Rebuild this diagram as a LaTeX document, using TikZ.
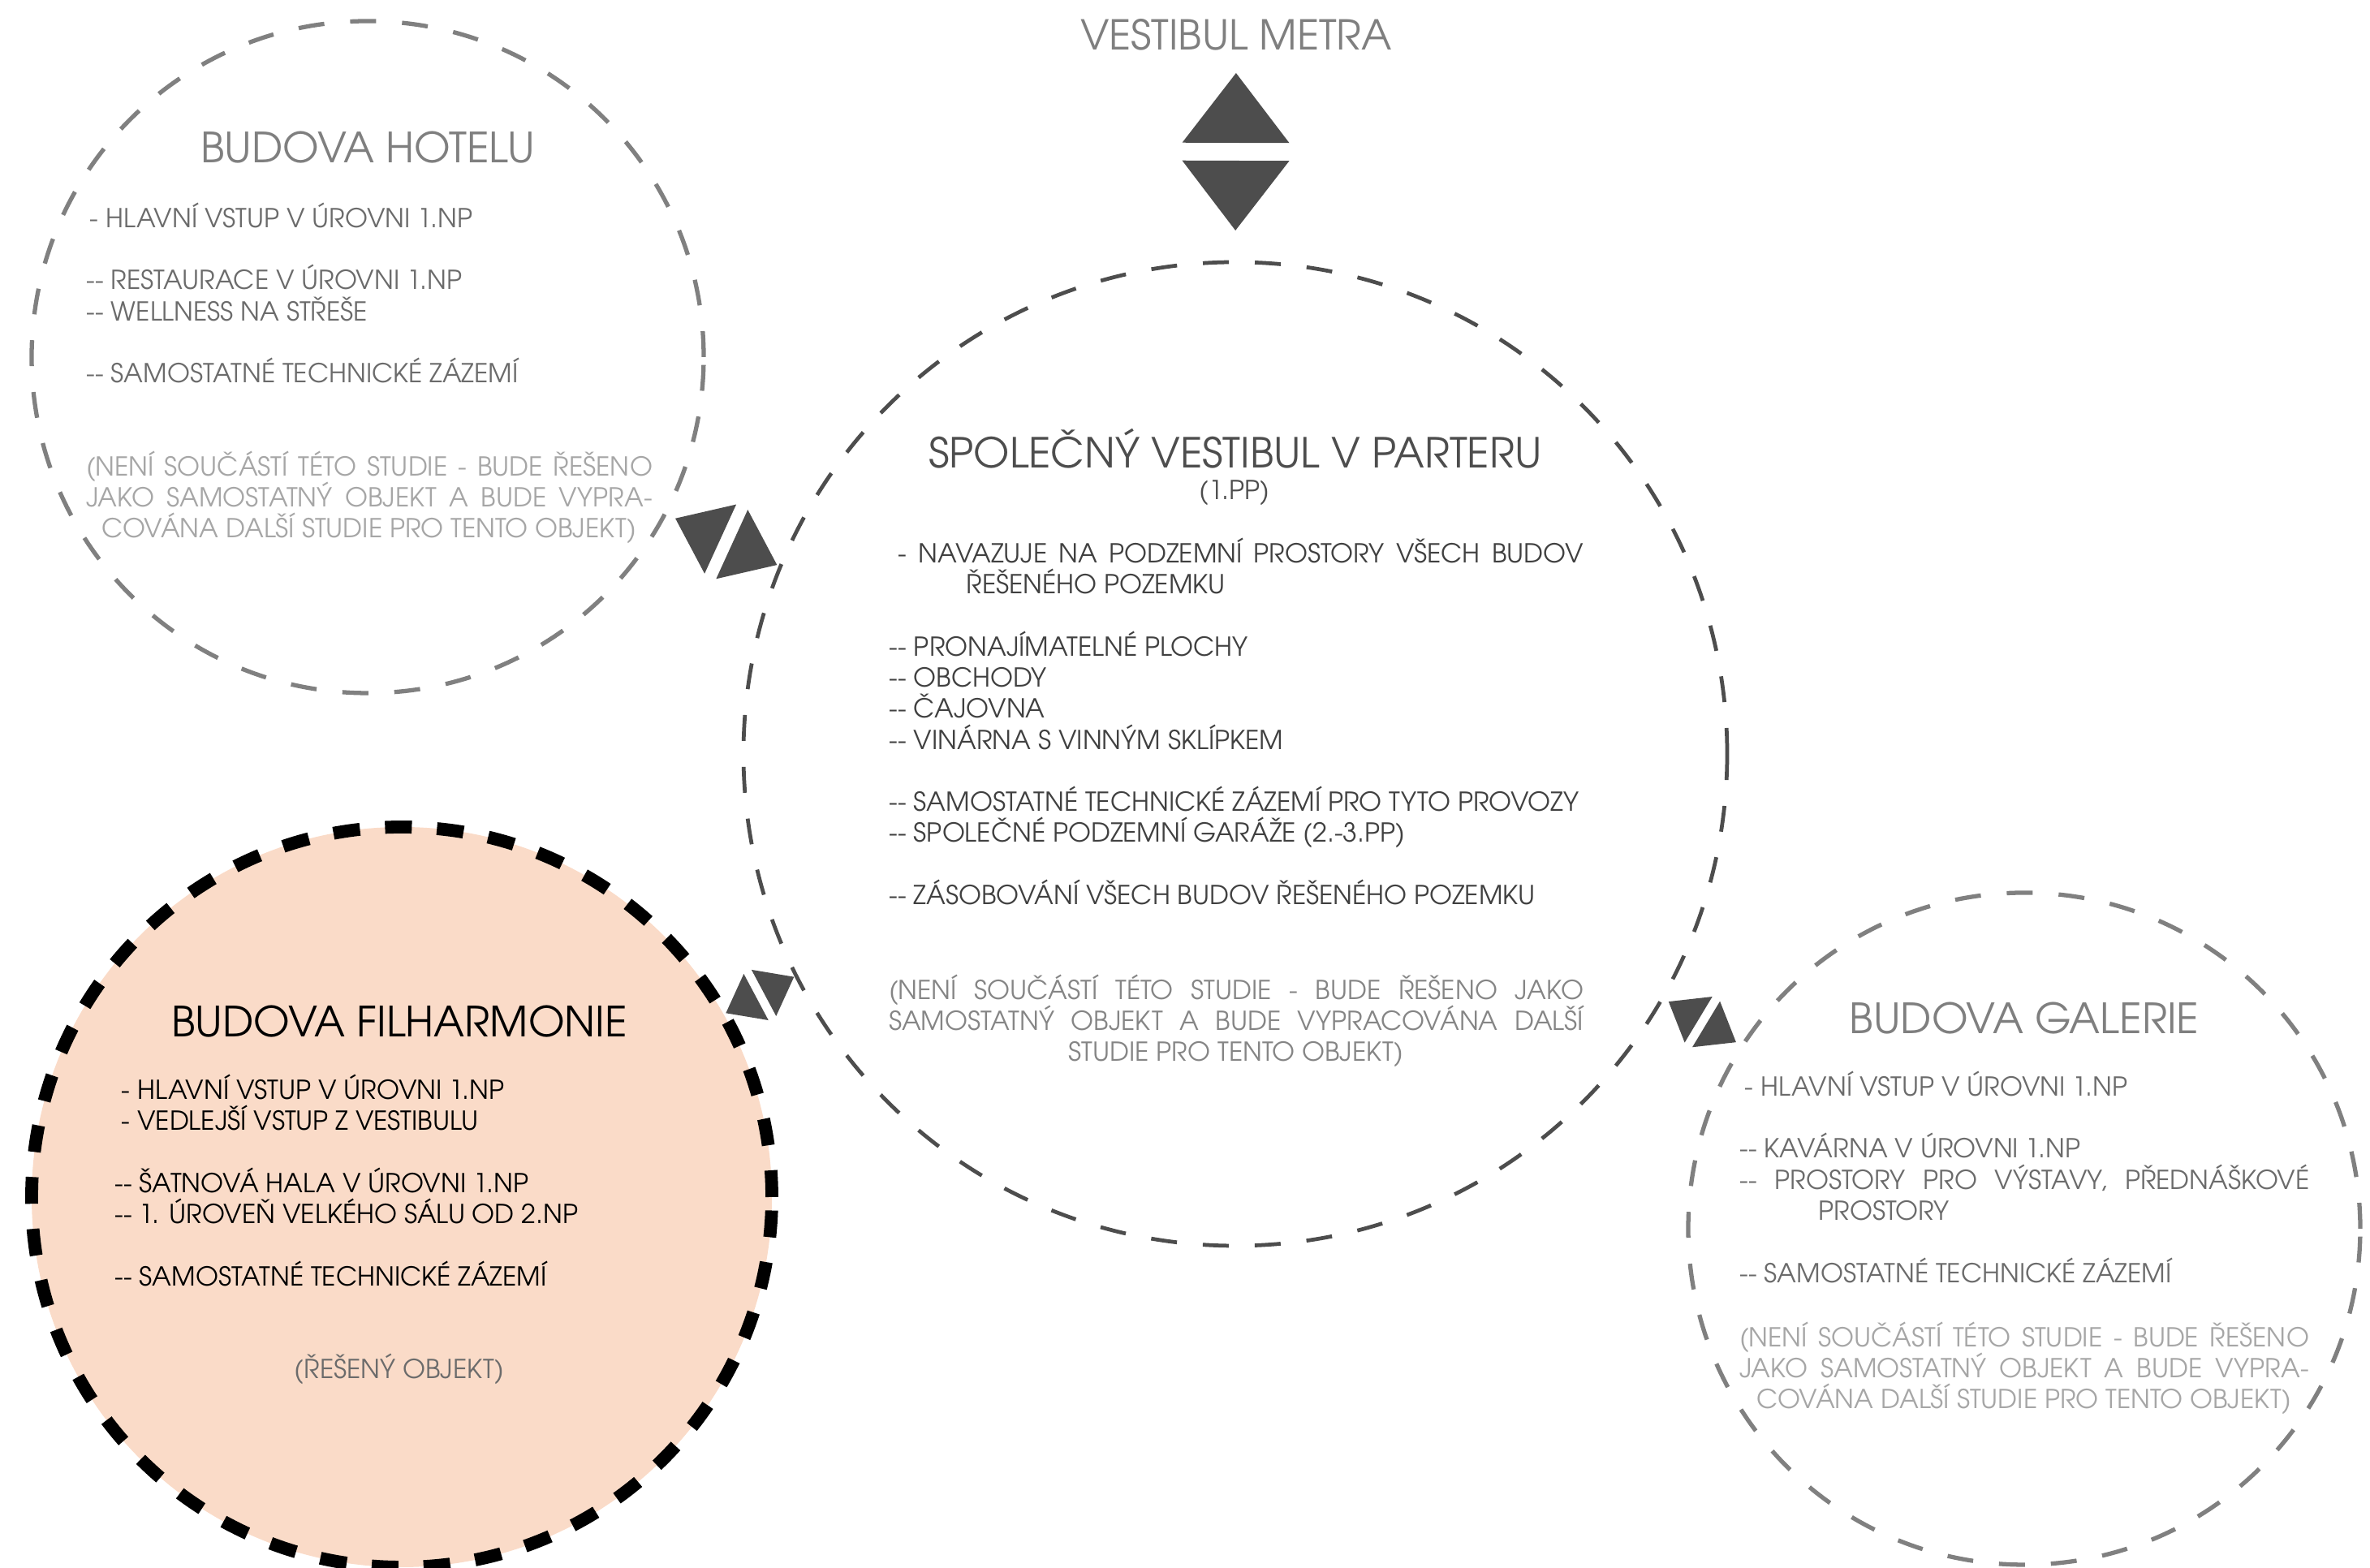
\documentclass[tikz,border=0pt]{standalone}
\usepackage{fontspec}
\setmainfont{texgyreadventor-regular.otf}[Ligatures=TeXOff]
\usetikzlibrary{positioning}
\definecolor{peach}{HTML}{FADBC8}
\definecolor{linkgray}{HTML}{4D4D4D}
\definecolor{ringgray}{HTML}{808080}
\definecolor{titlegray}{HTML}{7F7F7F}
\definecolor{textgray}{HTML}{6B6B6B}
\definecolor{notegray}{HTML}{A6A6A6}
\definecolor{halltext}{HTML}{404040}
\definecolor{hallnote}{HTML}{858585}
\newcommand{\justline}[2]{\makebox[#1][s]{#2}}
\tikzset{
  bubble/.style={circle, inner sep=0pt, outer sep=0pt, dash pattern=on 3.2mm off 3.2mm},
  sidebubble/.style={bubble, draw=ringgray, line width=1.5pt, minimum size=8.28cm},
  hallbubble/.style={bubble, draw=linkgray, line width=1.35pt, minimum size=12.12cm},
  mainbubble/.style={bubble, draw=black, fill=peach, line width=4.5pt, minimum size=9.12cm, dash pattern=on 3.3mm off 3.1mm},
  bigtitle/.style={font=\fontsize{14.6}{17}\selectfont, anchor=base, inner sep=0pt},
  itemlist/.style={font=\fontsize{9.15}{10.9}\selectfont, align=left, anchor=north west, inner sep=0pt},
  remark/.style={font=\fontsize{9.15}{10.9}\selectfont, align=center, anchor=north, inner sep=0pt},
  smalllabel/.style={font=\fontsize{9.15}{10.9}\selectfont, anchor=base, inner sep=0pt},
  pics/link/.style n args={3}{code={
    \begin{scope}[shift={(#2,#3)}, scale=#1]
      \fill[linkgray] (-0.11,0.66) -- (-0.11,-0.66) -- (-0.97,0) -- cycle;
      \fill[linkgray] (0.11,0.66) -- (0.11,-0.66) -- (0.97,0) -- cycle;
    \end{scope}}}
}
\begin{document}
\begin{tikzpicture}
  \useasboundingbox (0,0) rectangle (29.2,19.32);
  \node[sidebubble] (hotel) at (4.53,14.92) {};
  \node[hallbubble] (vestibul) at (15.22,10.03) {};
  \node[mainbubble] (filharmonie) at (4.95,4.57) {};
  \node[sidebubble] (galerie) at (24.94,4.18) {};

  \node[bigtitle, text=titlegray, font=\fontsize{14.4}{17}\selectfont] (metro) at (15.23,18.705) {VESTIBUL METRA};

  \node[bigtitle, text=titlegray] (hoteltitle) at (4.53,17.31) {BUDOVA HOTELU};
  \node[itemlist, text=textgray] (hotellist) at (1.06,16.83) {\hspace*{0.4mm}- HLAVNÍ VSTUP V ÚROVNI 1.NP\\[10.9pt]
    -- RESTAURACE V ÚROVNI 1.NP\\
    -- WELLNESS NA STŘEŠE\\[10.9pt]
    -- SAMOSTATNÉ TECHNICKÉ ZÁZEMÍ};
  \node[remark, text=notegray] (hotelnote) at (4.55,13.77) {\justline{6.98cm}{(NENÍ SOUČÁSTÍ TÉTO STUDIE - BUDE ŘEŠENO}\\
    \justline{6.98cm}{JAKO SAMOSTATNÝ OBJEKT A BUDE VYPRA-}\\
    COVÁNA DALŠÍ STUDIE PRO TENTO OBJEKT)};

  \node[bigtitle, text=linkgray, font=\fontsize{14.5}{17}\selectfont] (halltitle) at (15.22,13.55) {SPOLEČNÝ VESTIBUL V PARTERU};
  \node[smalllabel, text=linkgray] (hallfloor) at (15.21,13.16) {(1.PP)};
  \node[itemlist, text=halltext] (halllist) at (10.95,12.70) {\hspace*{1.1mm}\justline{8.44cm}{- NAVAZUJE NA PODZEMNÍ PROSTORY VŠECH BUDOV}\\
    \hspace*{9.5mm}ŘEŠENÉHO POZEMKU\\[10.9pt]
    -- PRONAJÍMATELNÉ PLOCHY\\
    -- OBCHODY\\
    -- ČAJOVNA\\
    -- VINÁRNA S VINNÝM SKLÍPKEM\\[10.9pt]
    -- SAMOSTATNÉ TECHNICKÉ ZÁZEMÍ PRO TYTO PROVOZY\\
    -- SPOLEČNÉ PODZEMNÍ GARÁŽE (2.-3.PP)\\[10.9pt]
    -- ZÁSOBOVÁNÍ VŠECH BUDOV ŘEŠENÉHO POZEMKU};
  \node[remark, text=hallnote] (hallnote) at (15.23,7.32) {\justline{8.56cm}{(NENÍ SOUČÁSTÍ TÉTO STUDIE - BUDE ŘEŠENO JAKO}\\
    \justline{8.56cm}{SAMOSTATNÝ OBJEKT A BUDE VYPRACOVÁNA DALŠÍ}\\
    STUDIE PRO TENTO OBJEKT)};

  \node[bigtitle, text=black] (filtitle) at (4.92,6.54) {BUDOVA FILHARMONIE};
  \node[itemlist, text=black] (fillist) at (1.41,6.09) {\hspace*{0.8mm}- HLAVNÍ VSTUP V ÚROVNI 1.NP\\
    \hspace*{0.8mm}- VEDLEJŠÍ VSTUP Z VESTIBULU\\[10.9pt]
    -- ŠATNOVÁ HALA V ÚROVNI 1.NP\\
    -- 1. ÚROVEŇ VELKÉHO SÁLU OD 2.NP\\[10.9pt]
    -- SAMOSTATNÉ TECHNICKÉ ZÁZEMÍ};
  \node[smalllabel, text=textgray] (filnote) at (4.92,2.33) {(ŘEŠENÝ OBJEKT)};

  \node[bigtitle, text=titlegray] (galtitle) at (24.94,6.58) {BUDOVA GALERIE};
  \node[itemlist, text=textgray] (gallist) at (21.43,6.13) {\hspace*{0.6mm}- HLAVNÍ VSTUP V ÚROVNI 1.NP\\[10.9pt]
    -- KAVÁRNA V ÚROVNI 1.NP\\
    \justline{7.02cm}{-- PROSTORY PRO VÝSTAVY, PŘEDNÁŠKOVÉ}\\
    \hspace*{9.7mm}PROSTORY\\[10.9pt]
    -- SAMOSTATNÉ TECHNICKÉ ZÁZEMÍ};
  \node[remark, text=notegray] (galnote) at (24.94,3.04) {\justline{7.02cm}{(NENÍ SOUČÁSTÍ TÉTO STUDIE - BUDE ŘEŠENO}\\
    \justline{7.02cm}{JAKO SAMOSTATNÝ OBJEKT A BUDE VYPRA-}\\
    COVÁNA DALŠÍ STUDIE PRO TENTO OBJEKT)};

  \path (metro.base) -- (vestibul.north) pic[pos=0.48, sloped] {link={1}{0}{0}};
  \path (hotel) -- (vestibul) pic[pos=0.5, sloped] {link={0.71}{0.045}{-0.231}};
  \path (filharmonie) -- (vestibul) pic[pos=0.5, sloped] {link={0.49}{0}{0.127}};
  \path (vestibul) -- (galerie) pic[pos=0.5, sloped] {link={0.5}{0}{0.138}};
\end{tikzpicture}
\end{document}
